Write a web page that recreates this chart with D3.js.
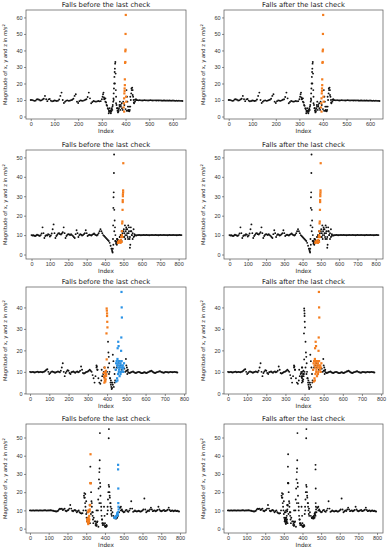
<!DOCTYPE html>
<html>
<head>
<meta charset="utf-8">
<script src="https://cdn.jsdelivr.net/npm/d3@7"></script>
<style>
  body { margin: 0; background: #fff; }
  svg { display: block; font-family: "DejaVu Sans", sans-serif; }
  .tick text { fill: #333; }
  .tick line { stroke: #444; stroke-width: 0.6; }
  .domain { display: none; }
</style>
</head>
<body>
<svg id="chart" width="392" height="550"></svg>
<script>
// sampled every STEP samples
var STEP = 5;

// recording 1 (0..635)
var rec1 = [10,10,9.8,9.5,9.6,10.3,10.5,10.2,9.7,9.8,10.3,10.8,
  12.5,10.5,9.3,10.4,10.6,9.6,9.2,9.4,9.7,9.6,9.4,9.6,10.3,12.5,14.5,10,8.2,9,9.6,9.8,9.5,9.6,9.9,10.2,
  10.8,12.5,13.5,9,8.2,9.3,9.8,9.6,9.5,9.8,10.2,10.5,11.8,14.5,11,8,8.8,9.4,9.2,9,9.2,9.4,9.2,9.3,
  10.5,13.5,10.5,9,7,5,3.5,2.8,4,6,10,20,8,5,4,6,7,5,9,7,4.5,3.5,3.5,6,12,17,13,8.5,
  10.2,10,9.9,9.8,9.9,9.8,9.7,9.8,9.9,9.8,9.8,9.7,9.8,9.9,9.8,9.7,9.8,9.8,9.7,9.8,9.7,9.8,9.7,9.6,
  9.7,9.7,9.6,9.7,9.6,9.7,9.6,9.6,9.7,9.6,9.5,9.6,9.5,9.6,9.5,9.5,9.4];
var rec1Extra = [[303,12],[307,14.5],[309,11.5],[312,10.8],[315,11],[318,8.5],[322,6.5],[327,4.5],[329,2],[331,3],
  [333,5],[336,3.5],[338,2],[340,3],[342,5],[344,4],[346,7],[348,9],[349,11],[350,14],[351,17],[352,20],[353,24],
  [354,27],[355,29],[356,32],[357,33],[358,26],[359,16],[360,12],[362,7],[364,5],[366,3.5],[368,2.5],[370,3],
  [372,5],[374,7],[376,9],[378,4],[380,6],[384,8],[388,4],[404,16],[406,12],[408,9],[410,6],[412,4],[414,3.5],
  [416,3.2],[418,4],[420,6],[422,10],[424,14],[426,16],[428,17.5],[430,16],[432,12],[434,10],[436,8],[440,9],[444,10.5]];
var rec1Orange = [[392,5.5],[393,8],[394,11],[395,14],[396,15.5],[396,17],[397,19],[397,22.5],[398,32.5],[399,33],
  [399,39.5],[400,40.5],[400,50],[401,61.5],[402,12],[394,3],[403,9]];

// recording 2 (0..815)
var rec2 = [10,9.8,9.9,9.7,9.5,9.8,10.2,10,9.8,9.6,10,10.8,
  14,11,8.5,9.5, 10,9.8,10.5,10.2,9.3,9.8,10.8, 13,15.5,11,8.5,9.5,10.2, 10.8,11,10.5,10.3,10.8,11.5,
  14,11,8.5,9.5,10.2, 10.5,10.3,10,10.4,10,9.6,9,8.5, 10.5,12.5,11,9, 10,10.5,10.2,9.8,10,10.5,11,
  12.5,11,9.5,10, 10.2,10,9.8,10.2,10.5,10.8,10.3,10,9.8,10.2, 11,12,13,12,11,
  10,9.5,9,8.5,8,7.5,7,6,4.5,3,1.5,
  5,12,7,6,8,7,6.5,9,10,7,11,12,9,10,13,11,8,14,9,12,10,8,13,9.5,10,9.8,10,
  10,10.1,10,9.9,10,10,10.1,10,10,10.1,10,10,9.9,10,10,10.1,10,10,10,10.1,10,10,9.9,10,
  10.1,10,10,10,10.1,10,10,10,9.9,10,10.1,10,10,10,10.1,10,10,10,9.9,10,10,10.1,10,10];
var rec2Extra = [[436,3],[438,2],[441,1],[442,3],[443,8],[444,15],[445,24],[446,29.5],[447,32],[448,42],[449,51.5],
  [450,23],[452,17.5],[454,14],[456,10],[458,7],[460,5.5],[462,6.5],[464,5],[466,8],[468,6],[470,7.5],
  [480,9],[485,10],[490,12],[498,9],[502,13],[505,11],[508,15],[510,8],[512,12],[515,14],[518,10],[520,13],
  [523,9],[526,15],[528,11],[530,12],[533,8],[535,3.5],[537,5],[540,14],[543,12],[546,10],[550,11],[555,9],[560,10.5]];
var rec2Orange = [[470,6],[472,6.5],[474,6.2],[476,7],[478,6.5],[480,6.8],[482,7],[484,6],[486,7.5],[488,9],[490,6.5],
  [491,10],[492,12],[493,16],[494,17],[494,9],[495,23],[496,27],[496,28],[497,30],[497,31],[498,32],[498,33],[499,47]];

// recording 3 (0..765)
var rec3 = [10,9.8,9.9,10,9.8,9.7,9.9,10,10.1,9.8,9.9,10,9.9,9.8,10,10.2,10.5,
  11,11.2,10,9,9.5, 10,10.2,10,9.8,9.6,9.8,10,10.2,10,9.8,10.5, 12,14,10,8,9.5,
  10.2,10.8,10.5,9.5,9,9.8, 10,10.2,9.8,9.6,10,10.2,9.8,10,10.5, 12.5,11,9.5,9.2,
  9.5,9.8,10,10.2,10.5,11,10.5,10,8.5, 7,5,8,12,11,7,5,4.5,6,8,9,7.5,8,9,
  10,12,9,7,6,5,4,3,5,11,12,13,14,12,13,11,12,10,11.5,10,10.5,
  10.5,9.8,9.5,9.6,9.8,10,10.2,9.8,9.6,9.5,9.7,9.9,10,9.8,9.6,9.4,9.5,9.7,9.8,9.6,9.5,9.7,9.9,
  10.2,10.3,10.5,10.2,9.8,9.6,9.5,9.7,9.9,10,10.2,10.3,10,9.8,9.7,9.6,9.8,10,9.9,9.8,9.7,9.9,
  10,9.9,9.8,9.9,10,9.9,9.8,9.7];
var rec3Extra = [[345,13],[347,12.5],[350,11],[372,11],[383,10],[386,12],[405,24],[407,19],[409,17],[411,14],
  [413,10],[416,7],[418,5],[420,4],[422,3],[424,2],[426,2.5],[428,5],[430,18],[433,15],[436,12],[439,9],[442,6],
  [498,16],[500,13],[503,12],[505,9],[508,11]];
var rec3Orange = [[398,39.5],[399,38.5],[400,37.2],[400,36],[401,33.3],[402,30.7],[397,27.9],[398,15.8],[388,12],
  [390,10],[392,9],[385,8],[387,7],[389,6],[391,5.5],[393,6.5],[395,8],[383,9.5],[394,10.5],[396,9],[386,5]];
var rec3Blue = [[475,47.2],[476,40],[477,35.3],[474,26],[473,19.8],[455,21],[458,24],[460,22],[450,15],[452,13],
  [454,16],[456,12],[458,14],[460,15],[462,11],[464,13],[466,15],[468,12],[470,14],[472,10],[474,13],[476,15],
  [478,12],[480,11],[482,13],[484,10],[486,12],[457,9],[461,10],[465,8],[452,7],[448,5.5],[454,6],[470,9],
  [488,14],[445,11],[447,14]];

// recording 4 (0..795)
var rec4 = [10,10,9.9,10,10,9.9,10,10,10,9.9,10,10,10,9.9,10,10,10.1,10,9.9,10,10,10,10.1,10,9.9,9.8,9.6,9.5,9.4,9.5,9.8,
  10.5,11,10.8,11,10.2,10.5,11,9.8,9.5,10,10.2,11,
  13,11,9.8,9.5,10,10.2,9.8,9,9.5,10,9,8.5,8.3,8.5,
  10,17,19,15,9,6,4,3,8,
  14,9,6,4,2,10,4,1,14,23,12,5,3,2,1.2,
  1.2,1.5,10,24,18,14,11,9,7,6,5.6,5.5,6,7,9,11.5,
  10,10.5,9.5,9,9.2,10,10.3,9.5,9.2,10,11,15,11,9.2,9.5,10,9.6,9.4,9.6,9.8,9.5,9.3,9.6,10,10.5,16.5,
  10.5,9,9.5,10,9.7,10.5,11.5,10.5,9.6,9.8,10,9.5,9.8,10.2,12,10.5,9.8,9.5,9.8,10,10.2,9.6,9.8,10,
  10.4,11.5,10.2,9.6,9.8,10,9.5,9.8,10,9.6,9.8,9.5,9.4];
var rec4Extra = [[288,18],[290,19.5],[292,17],[294,14],[296,12],[298,10],[300,8],[302,6],[304,4],
  [318,13],[322,34],[324,25],[326,20],[328,15],[330,12],[332,9],[334,7],[336,5],[338,3],
  [350,4],[352,3],[354,1.5],[356,2],[358,3.5],
  [362,10],[364,16],[366,22],[368,27],[370,31],[371,33],[372,37.5],[373,52.4],[374,25],[376,18],[378,14],[380,10],
  [382,7],[384,5],[386,3],[388,2],[395,12],[398,7],[400,3],[402,1.5],[404,1],[406,1.2],[408,2],[412,8],[414,12],
  [416,16],[418,20],[420,49.6],[421,54.6],[422,23],[424,20],[426,17],[428,14],[430,12],[432,10],[434,8],[436,7],
  [480,11.5],[485,12],[490,10]];
var rec4Orange = [[305,5],[306,4.5],[307,3.8],[308,5.5],[309,4],[310,3],[311,2.5],[312,5],[313,6],[314,4.2],
  [315,3.5],[316,7],[317,5],[318,9.5],[319,10.5],[320,12.7],[321,13],[322,25],[323,40.8],[324,24.8],[310,9],[312,10]];
var rec4Blue = [[470,35],[470,32.5],[471,22],[472,12],[471,14],[465,8],[468,7.5],[462,7],[458,6.5],[455,6.2],
  [452,6],[450,6],[460,6.8],[466,8.5],[469,9],[473,10.5],[456,5.8]];

var titles = ["Falls before the last check", "Falls after the last check"];
var xTicks = [[0,100,200,300,400,500,600], [0,100,200,300,400,500,600,700,800],
              [0,100,200,300,400,500,600,700,800], [0,100,200,300,400,500,600,700,800]];
var yTicks = [[0,10,20,30,40,50,60], [0,10,20,30,40,50], [0,10,20,30,40], [0,10,20,30,40,50]];

var ORANGE = "#f47d1e", BLUE = "#2b93e6";

function toPts(base) {
  return base.map(function(v, i) { return [i * STEP, v]; });
}

// per row: black set, then colored sets for left / right panel
var rows = [
  { black: toPts(rec1).concat(rec1Extra),
    left: [[rec1Orange, ORANGE]], right: [[rec1Orange, ORANGE]],
    rightBlack: [], xd: [-20, 655], yd: [-1.5, 64.5] },
  { black: toPts(rec2).concat(rec2Extra),
    left: [[rec2Orange, ORANGE]], right: [[rec2Orange, ORANGE]],
    rightBlack: [], xd: [-30, 840], yd: [-2.3, 53.8] },
  { black: toPts(rec3).concat(rec3Extra),
    left: [[rec3Orange, ORANGE], [rec3Blue, BLUE]], right: [[rec3Blue, ORANGE]],
    rightBlack: rec3Orange, xd: [-21, 810], yd: [-0.3, 49.5] },
  { black: toPts(rec4).concat(rec4Extra),
    left: [[rec4Orange, ORANGE], [rec4Blue, BLUE]], right: [],
    rightBlack: rec4Orange.concat(rec4Blue), xd: [-21, 832], yd: [-2.4, 57.4] }
];

var colX = [[26, 186], [224, 383]];
var rowY = [[10, 119], [150, 259], [287, 394], [424, 533]];

var svg = d3.select("#chart");

rows.forEach(function(row, r) {
  [0, 1].forEach(function(c) {
    var x0 = colX[c][0], x1 = colX[c][1];
    var y0 = rowY[r][0], y1 = rowY[r][1];
    var x = d3.scaleLinear().domain(row.xd).range([x0, x1]);
    var y = d3.scaleLinear().domain(row.yd).range([y1, y0]);
    var g = svg.append("g");

    // points
    var black = c === 0 ? row.black : row.black.concat(row.rightBlack);
    g.append("g").selectAll("circle").data(black).enter().append("circle")
      .attr("cx", function(d) { return x(d[0]); })
      .attr("cy", function(d) { return y(d[1]); })
      .attr("r", 0.95)
      .attr("fill", "#111");

    var sets = c === 0 ? row.left : row.right;
    sets.forEach(function(s) {
      g.append("g").selectAll("rect").data(s[0]).enter().append("rect")
        .attr("x", function(d) { return x(d[0]) - 1.1; })
        .attr("y", function(d) { return y(d[1]) - 1.1; })
        .attr("width", 2.2).attr("height", 2.2)
        .attr("fill", s[1]);
    });

    // frame
    g.append("rect")
      .attr("x", x0).attr("y", y0)
      .attr("width", x1 - x0).attr("height", y1 - y0)
      .attr("fill", "none").attr("stroke", "#555").attr("stroke-width", 0.7);

    // axes
    g.append("g").attr("transform", "translate(0," + y1 + ")")
      .call(d3.axisBottom(x).tickValues(xTicks[r]).tickSize(2).tickPadding(1.5))
      .selectAll("text").style("font-size", "5.5px");
    g.append("g").attr("transform", "translate(" + x0 + ",0)")
      .call(d3.axisLeft(y).tickValues(yTicks[r]).tickSize(2).tickPadding(1.5))
      .selectAll("text").style("font-size", "5.5px");

    // labels
    g.append("text")
      .attr("x", (x0 + x1) / 2).attr("y", y0 - 3)
      .attr("text-anchor", "middle")
      .style("font-size", "6.8px").style("fill", "#222")
      .text(titles[c]);

    g.append("text")
      .attr("x", (x0 + x1) / 2).attr("y", y1 + 14)
      .attr("text-anchor", "middle")
      .style("font-size", "5.8px").style("fill", "#222")
      .text("Index");

    var yl = g.append("text")
      .attr("transform", "translate(" + (x0 - 19) + "," + ((y0 + y1) / 2) + ") rotate(-90)")
      .attr("text-anchor", "middle")
      .style("font-size", "5.2px").style("fill", "#222");
    yl.append("tspan").text("Magnitude of x, y and z in ");
    yl.append("tspan").style("font-style", "italic").text("m/s");
    yl.append("tspan").attr("dy", -1.8).style("font-size", "3.8px").text("2");
  });
});
</script>
</body>
</html>
